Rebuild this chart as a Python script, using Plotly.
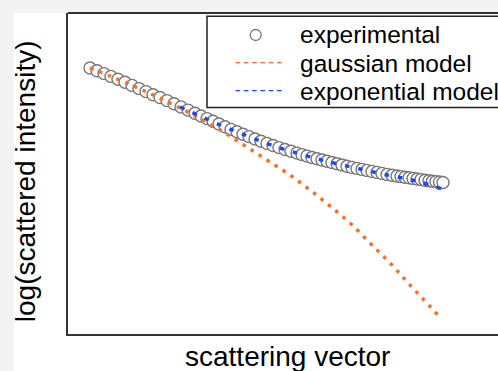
import plotly.graph_objects as go

# ---------------- data ----------------
q_exp = [0.022, 0.029, 0.036, 0.043, 0.050, 0.057, 0.064, 0.071, 0.078, 0.085,
         0.092, 0.099, 0.106, 0.113, 0.120, 0.127, 0.133, 0.139, 0.145, 0.151,
         0.157, 0.163, 0.169, 0.175, 0.181, 0.187, 0.193, 0.199, 0.205, 0.211,
         0.217, 0.223, 0.229, 0.234, 0.239, 0.244, 0.249, 0.254, 0.259, 0.264,
         0.269, 0.274, 0.279, 0.284, 0.289, 0.294, 0.299, 0.304, 0.309, 0.314,
         0.319, 0.324, 0.329, 0.333, 0.337, 0.341, 0.345, 0.349, 0.353, 0.357,
         0.361, 0.3645, 0.368, 0.3715, 0.375]
logI_exp = [2.660, 2.632, 2.604, 2.576, 2.548, 2.518, 2.486, 2.454, 2.424, 2.392,
            2.365, 2.334, 2.302, 2.271, 2.239, 2.208, 2.180, 2.154, 2.127, 2.100,
            2.073, 2.046, 2.022, 1.998, 1.974, 1.950, 1.927, 1.906, 1.885, 1.864,
            1.845, 1.827, 1.809, 1.794, 1.779, 1.765, 1.753, 1.740, 1.728, 1.715,
            1.703, 1.690, 1.678, 1.666, 1.656, 1.646, 1.636, 1.626, 1.616, 1.606,
            1.596, 1.587, 1.580, 1.574, 1.568, 1.562, 1.556, 1.550, 1.544, 1.538,
            1.532, 1.527, 1.524, 1.520, 1.515]

q_gauss = [0.022, 0.042, 0.062, 0.082, 0.102, 0.122, 0.142, 0.162, 0.182,
           0.202, 0.222, 0.242, 0.262, 0.282, 0.302, 0.322, 0.342, 0.370]
logI_gauss = [2.66, 2.58, 2.495, 2.405, 2.31, 2.21, 2.10, 1.98, 1.85,
              1.72, 1.59, 1.44, 1.28, 1.11, 0.91, 0.71, 0.49, 0.19]

q_expo = [0.112, 0.132, 0.152, 0.172, 0.192, 0.212, 0.232, 0.252, 0.272,
          0.292, 0.312, 0.332, 0.352, 0.374]
logI_expo = [2.27, 2.18, 2.09, 2.01, 1.93, 1.86, 1.80, 1.745, 1.695,
             1.65, 1.605, 1.565, 1.52, 1.45]

legend_labels = ["experimental", "gaussian model", "exponential model"]
x_title = "scattering vector"
y_title = "log(scattered intensity)"

# ---------------- layout geometry ----------------
W, H = 498, 371
ML, MR, MT, MB = 68, 0, 13, 37
PW, PH = W - ML - MR, H - MT - MB

def px_x(p):
    return (p - ML) / PW

def px_y(p):
    return (H - MB - p) / PH

ORANGE = "#ff6f1f"
BLUE = "#1449ff"
GRAY = "#777777"
FONT = "Liberation Sans, Arial, sans-serif"

fig = go.Figure()
fig.add_trace(go.Scatter(
    x=q_exp, y=logI_exp, mode="markers", name=legend_labels[0], showlegend=False,
    marker=dict(symbol="circle", size=12, color="white",
                line=dict(color=GRAY, width=1.4))))
fig.add_trace(go.Scatter(
    x=q_gauss, y=logI_gauss, mode="lines", name=legend_labels[1], showlegend=False,
    line=dict(color=ORANGE, width=3.5, dash="3.5px,6px", shape="spline")))
fig.add_trace(go.Scatter(
    x=q_expo, y=logI_expo, mode="lines", name=legend_labels[2], showlegend=False,
    line=dict(color=BLUE, width=3.5, dash="4.5px,9px", shape="spline")))

shapes = [
    # light gray strips on the left and top of the picture
    dict(type="rect", xref="paper", yref="paper", layer="below",
         x0=px_x(-2), x1=px_x(14), y0=px_y(H + 2), y1=px_y(-2),
         fillcolor="#f3f3f3", line=dict(width=0)),
    dict(type="rect", xref="paper", yref="paper", layer="below",
         x0=px_x(-2), x1=px_x(W + 2), y0=px_y(13), y1=px_y(-2),
         fillcolor="#f3f3f3", line=dict(width=0)),
    # top frame line
    dict(type="line", xref="paper", yref="paper", x0=0, x1=1.01, y0=1, y1=1,
         line=dict(color="#333333", width=2)),
    # legend box
    dict(type="rect", xref="paper", yref="paper",
         x0=px_x(207), x1=px_x(W + 20), y0=px_y(107.5), y1=px_y(16.3),
         fillcolor="white", line=dict(color="#222222", width=1.5)),
    # legend samples
    dict(type="circle", xref="paper", yref="paper",
         x0=px_x(250.2), x1=px_x(261.2), y0=px_y(40.5), y1=px_y(29.5),
         fillcolor="white", line=dict(color=GRAY, width=1.3)),
    dict(type="line", xref="paper", yref="paper",
         x0=px_x(235.5), x1=px_x(282), y0=px_y(62.7), y1=px_y(62.7),
         line=dict(color=ORANGE, width=1.2, dash="4.6px,3.7px")),
    dict(type="line", xref="paper", yref="paper",
         x0=px_x(235.5), x1=px_x(282), y0=px_y(90.7), y1=px_y(90.7),
         line=dict(color=BLUE, width=1.2, dash="4.6px,3.7px")),
]

annotations = [
    dict(text=legend_labels[0], xref="paper", yref="paper", x=px_x(297.5), y=px_y(34.7),
         xanchor="left", yanchor="middle", showarrow=False,
         font=dict(family=FONT, size=24.5, color="black")),
    dict(text=legend_labels[1], xref="paper", yref="paper", x=px_x(297.5), y=px_y(63.1),
         xanchor="left", yanchor="middle", showarrow=False,
         font=dict(family=FONT, size=24.5, color="black")),
    dict(text=legend_labels[2], xref="paper", yref="paper", x=px_x(297.5), y=px_y(91.4),
         xanchor="left", yanchor="middle", showarrow=False,
         font=dict(family=FONT, size=24.5, color="black")),
    dict(text=x_title, xref="paper", yref="paper", x=px_x(287.5), y=px_y(356.9),
         xanchor="center", yanchor="middle", showarrow=False,
         font=dict(family=FONT, size=28, color="black")),
    dict(text=y_title, xref="paper", yref="paper", x=px_x(25.2), y=px_y(181),
         xanchor="center", yanchor="middle", showarrow=False, textangle=-90,
         font=dict(family=FONT, size=28, color="black")),
]

fig.update_layout(
    width=W, height=H,
    margin=dict(l=ML, r=MR, t=MT, b=MB, pad=0),
    paper_bgcolor="white", plot_bgcolor="white",
    showlegend=False,
    shapes=shapes, annotations=annotations,
    font=dict(family=FONT),
    xaxis=dict(range=[0, 0.43], showgrid=False, zeroline=False, showticklabels=False,
               ticks="", showline=True, linecolor="#333333", linewidth=2, fixedrange=True),
    yaxis=dict(range=[0, 3.21], showgrid=False, zeroline=False, showticklabels=False,
               ticks="", showline=True, linecolor="#333333", linewidth=2, fixedrange=True),
)

fig.write_html("out.html", config=dict(displayModeBar=False))
